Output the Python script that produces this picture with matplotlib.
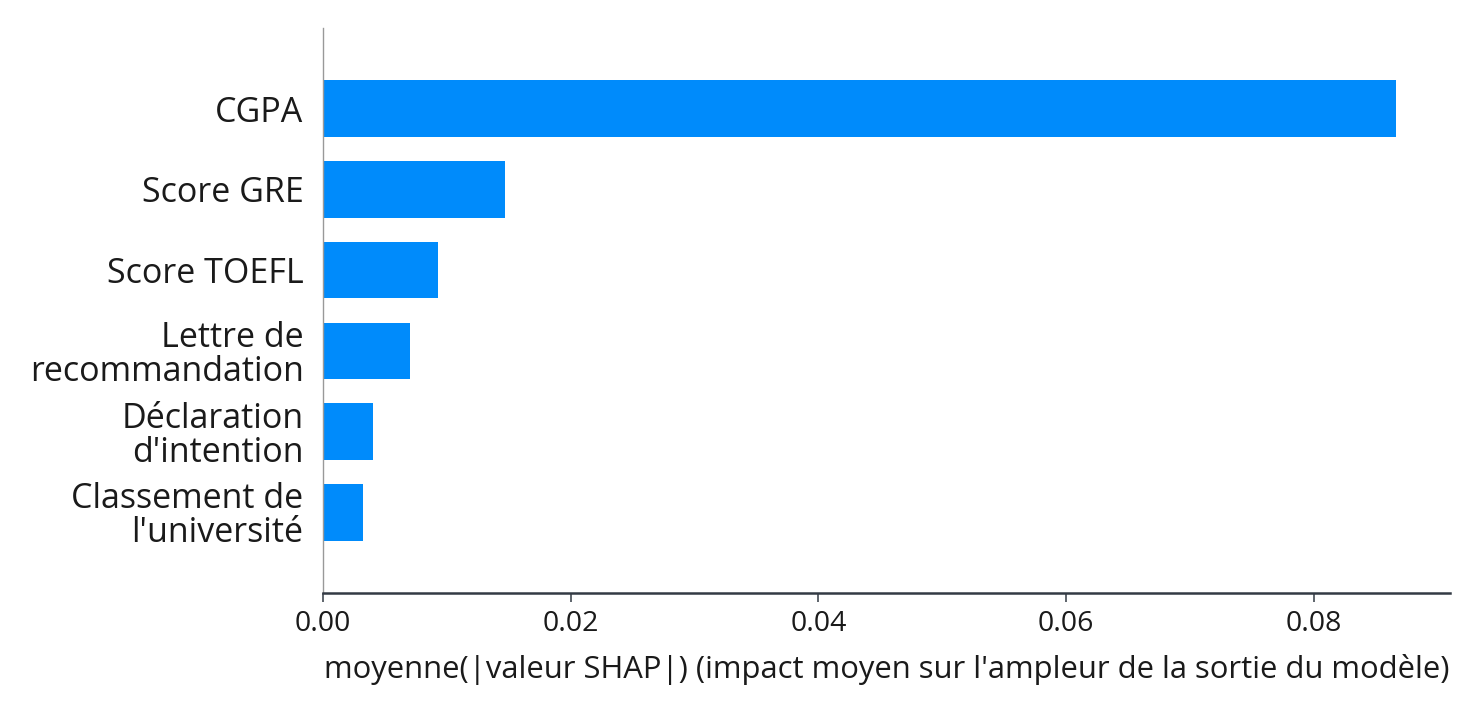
import numpy as np
import matplotlib
matplotlib.use("Agg")
import matplotlib.pyplot as plt

# --- data ---
features = ["Classement de\nl'université", "Déclaration\nd'intention", "Lettre de\nrecommandation",
            "Score TOEFL", "Score GRE", "CGPA"]
mean_shap = [0.0032, 0.0040, 0.0070, 0.0093, 0.0147, 0.0866]
xticks = [0.00, 0.02, 0.04, 0.06, 0.08]
xlabel = "moyenne(|valeur SHAP|) (impact moyen sur l'ampleur de la sortie du modèle)"

BLUE = "#008bfb"
plt.rcParams["font.family"] = ["Open Sans", "DejaVu Sans"]

fig = plt.figure(figsize=(14.77, 7.2), dpi=100)
ax = fig.add_axes([323 / 1477, 1 - 593 / 720, (1450 - 323) / 1477, (593 - 28) / 720])

ypos = np.arange(len(features))
ax.barh(ypos, mean_shap, height=0.7, color=BLUE, align="center")

ax.set_yticks(ypos)
ax.set_yticklabels(features, fontsize=24.5, color="#1a1a1a", linespacing=1.0)
ax.set_xticks(xticks)
ax.set_xticklabels([f"{t:.2f}" for t in xticks], fontsize=20.5, color="#1a1a1a")
ax.set_xlim(0, 0.091)
ax.set_ylim(-1, len(features))
ax.set_xlabel(xlabel, fontsize=22.3, color="#1a1a1a", labelpad=11)

ax.spines["top"].set_visible(False)
ax.spines["right"].set_visible(False)
ax.spines["left"].set_color("#999999")
ax.spines["left"].set_linewidth(1.0)
ax.spines["bottom"].set_color("#333a44")
ax.spines["bottom"].set_linewidth(1.8)
ax.tick_params(axis="y", length=0, pad=14)
ax.tick_params(axis="x", length=6.5, width=1.1, color="#333a44", pad=6)

fig.savefig("out.png", dpi=100, facecolor="white")
